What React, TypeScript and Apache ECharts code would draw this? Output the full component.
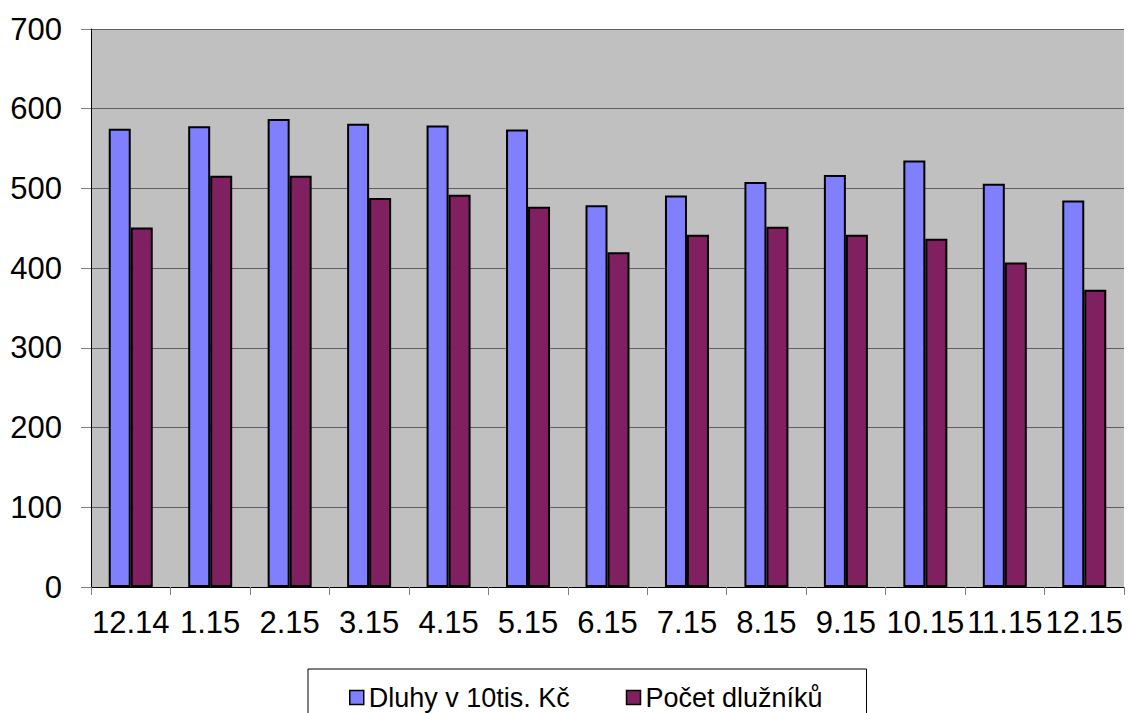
import React, { useEffect, useRef } from "react";
import * as echarts from "echarts";

const categories = ["12.14", "1.15", "2.15", "3.15", "4.15", "5.15", "6.15", "7.15", "8.15", "9.15", "10.15", "11.15", "12.15"];
const dluhy = [575, 578, 587, 581, 579, 574, 479, 491, 508, 517, 535, 506, 485];
const pocet = [451, 516, 516, 488, 492, 477, 420, 442, 452, 442, 437, 407, 373];
const seriesNames = ["Dluhy v 10tis. Kč", "Počet dlužníků"];

export default function App() {
  const ref = useRef<HTMLDivElement>(null);
  useEffect(() => {
    const chart = echarts.init(ref.current!, null, { renderer: "svg" });
    const font = "'Liberation Sans', Arial, sans-serif";
    chart.setOption({
      animation: false,
      backgroundColor: "#ffffff",
      textStyle: { fontFamily: font },
      grid: {
        left: 91,
        right: 4,
        top: 29,
        bottom: 126,
        show: true,
        backgroundColor: "#c0c0c0",
        borderWidth: 0,
      },
      legend: {
        left: 308,
        top: 669,
        orient: "horizontal",
        borderColor: "#000",
        borderWidth: 1,
        padding: [15, 35, 40, 41],
        itemGap: 40,
        itemWidth: 14,
        itemHeight: 14,
        textStyle: { fontSize: 27, lineHeight: 27, color: "#000", fontFamily: font },
        data: [
          { name: seriesNames[0], icon: "rect", itemStyle: { borderColor: "#000", borderWidth: 1.5 }, textStyle: { width: 217 } },
          { name: seriesNames[1], icon: "rect", itemStyle: { borderColor: "#000", borderWidth: 1.5 }, textStyle: { width: 186 } },
        ],
      },
      xAxis: {
        type: "category",
        data: categories,
        boundaryGap: true,
        axisLine: { show: true, lineStyle: { color: "#000", width: 1 } },
        axisTick: { show: true, length: 8, alignWithLabel: false, lineStyle: { color: "#808080" } },
        axisLabel: { interval: 0, fontSize: 31, color: "#000", margin: 20, fontFamily: font },
        splitLine: { show: false },
      },
      yAxis: {
        type: "value",
        min: 0,
        max: 700,
        interval: 100,
        axisLine: { show: true, lineStyle: { color: "#000", width: 1 } },
        axisTick: { show: true, length: 10, lineStyle: { color: "#808080" } },
        axisLabel: { fontSize: 31, color: "#000", margin: 29, fontFamily: font },
        splitLine: { show: true, lineStyle: { color: "#606060", width: 1 } },
      },
      series: [
        {
          name: seriesNames[0],
          type: "bar",
          data: dluhy,
          barWidth: 22,
          barGap: "0%",
          itemStyle: { color: "#8080ff", borderColor: "#000", borderWidth: 2 },
        },
        {
          name: seriesNames[1],
          type: "bar",
          data: pocet,
          barWidth: 22,
          barGap: "0%",
          itemStyle: { color: "#802060", borderColor: "#000", borderWidth: 2 },
        },
      ],
    });
    return () => chart.dispose();
  }, []);
  return (
    <div style={{ position: "fixed", left: 0, top: 0 }}>
      <div ref={ref} style={{ width: 1128, height: 713 }} />
    </div>
  );
}
